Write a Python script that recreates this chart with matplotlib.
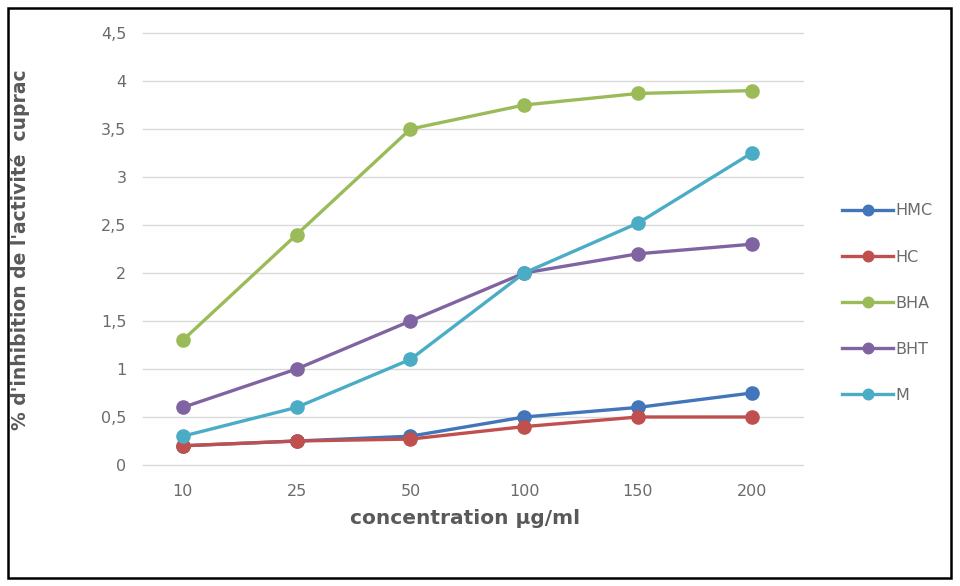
import matplotlib.pyplot as plt
from matplotlib.patches import Rectangle

# concentrations (µg/ml), plotted as categories
concentrations = ["10", "25", "50", "100", "150", "200"]

hmc = [0.2, 0.25, 0.3, 0.5, 0.6, 0.75]
hc = [0.2, 0.25, 0.27, 0.4, 0.5, 0.5]
bha = [1.3, 2.4, 3.5, 3.75, 3.87, 3.9]
bht = [0.6, 1.0, 1.5, 2.0, 2.2, 2.3]
m = [0.3, 0.6, 1.1, 2.0, 2.52, 3.25]

series = [
    ("HMC", hmc, "#4275B9"),
    ("HC", hc, "#C0504D"),
    ("BHA", bha, "#9BBB59"),
    ("BHT", bht, "#8064A2"),
    ("M", m, "#4BACC6"),
]

fig = plt.figure(figsize=(9.6, 5.86), dpi=100)
ax = fig.add_axes([143 / 960, 1 - 465 / 586, 660 / 960, 432 / 586])

x = list(range(len(concentrations)))
for name, vals, col in series:
    ax.plot(x, vals, color=col, lw=2.4, marker="o", ms=9.5, label=name)

ax.set_ylim(0, 4.5)
ax.set_xlim(-0.35, 5.45)
ax.set_yticks([0, 0.5, 1, 1.5, 2, 2.5, 3, 3.5, 4, 4.5])
ax.set_yticklabels(["0", "0,5", "1", "1,5", "2", "2,5", "3", "3,5", "4", "4,5"])
ax.set_xticks(x)
ax.set_xticklabels(concentrations)
ax.grid(axis="y", color="#d9d9d9", lw=1)
for gl in ax.get_ygridlines():
    gl.set_clip_on(False)
ax.set_axisbelow(True)
for s in ax.spines.values():
    s.set_visible(False)
ax.tick_params(length=0, colors="#6b6b6b", labelsize=11.5, pad=12)
ax.tick_params(axis="x", pad=14)

fig.text(20 / 960, 1 - 250 / 586, "% d'inhibition de l'activité  cuprac",
         rotation=90, ha="center", va="center", fontsize=13.5,
         fontweight="bold", color="#595959", family="DejaVu Sans")
fig.text(465 / 960, 1 - 518 / 586, "concentration µg/ml", ha="center",
         va="center", fontsize=14.5, fontweight="bold", color="#595959",
         family="DejaVu Sans")

leg = fig.legend(loc="upper left", bbox_to_anchor=(828 / 960, 1 - 189 / 586),
                 frameon=False, fontsize=11.5, labelspacing=1.95,
                 handlelength=3.2, handletextpad=0.1, markerscale=0.8)
for t in leg.get_texts():
    t.set_color("#6b6b6b")

# outer frame around the whole chart
fig.patches.append(Rectangle((8 / 960, 8 / 586), 943 / 960, 570 / 586,
                             transform=fig.transFigure, fill=False,
                             edgecolor="black", lw=1.8))

fig.savefig("out.png", dpi=100)
